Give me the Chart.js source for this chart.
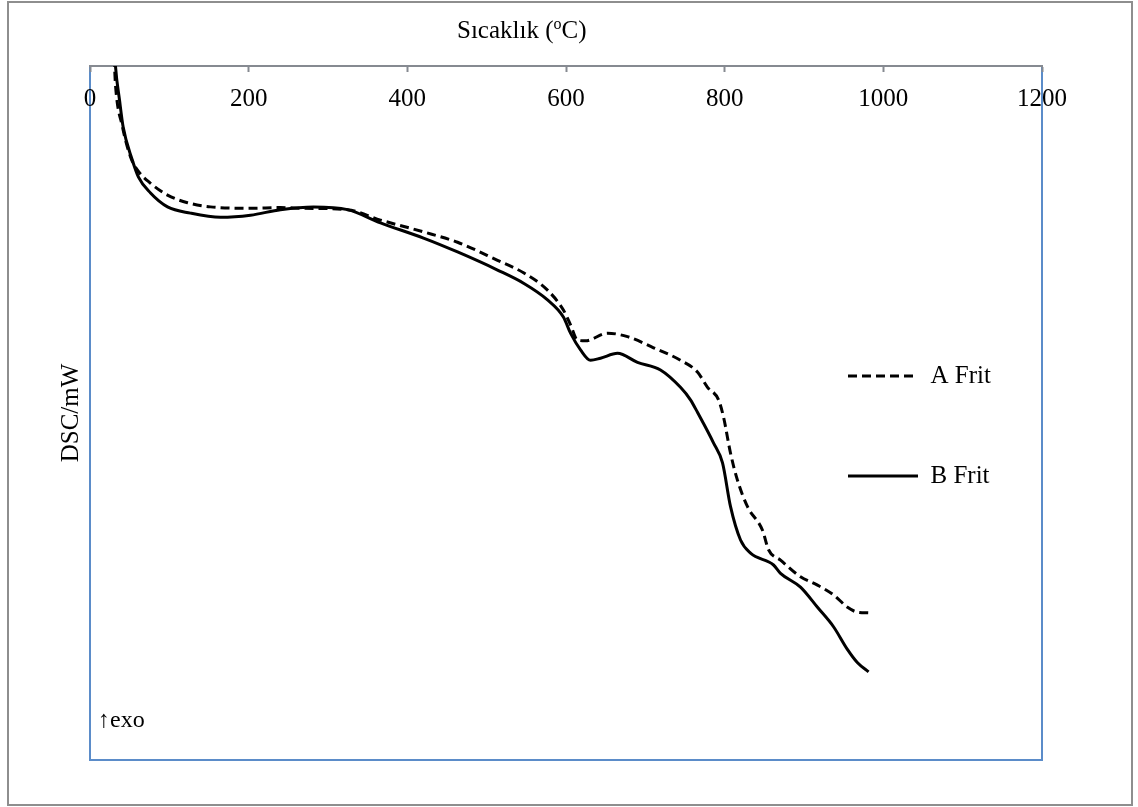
<!DOCTYPE html>
<html>
<head>
<meta charset="utf-8">
<script src="https://cdn.jsdelivr.net/npm/chart.js@4.4.1/dist/chart.umd.min.js"></script>
<style>
  html, body { margin: 0; padding: 0; background: #fff; }
  canvas { display: block; }
</style>
</head>
<body>
<canvas id="c" width="1138" height="807"></canvas>
<script>
// ---- data (temperature in °C, DSC signal in arbitrary units) ----
const seriesNames = ['A Frit', 'B Frit'];
const xTicks = [0, 200, 400, 600, 800, 1000, 1200];

const aTemp = [28.4, 30.9, 32.1, 41.0, 51.1, 59.9, 76.3, 97.7, 122.9, 151.9, 202.3, 240.1, 269.1, 324.6, 366.2, 420.4, 463.3, 513.7, 546.5, 576.7, 596.9, 605.7, 614.5, 624.6, 652.3, 677.5, 710.3, 744.3, 765.7, 778.4, 792.3, 798.6, 807.4, 816.2, 828.8, 847.7, 855.3, 870.4, 895.6, 917.0, 937.2, 954.9, 967.5, 981.4];
const aDsc  = [105.2, 100.0, 97.3, 91.2, 86.9, 85.0, 83.1, 81.4, 80.3, 79.7, 79.5, 79.6, 79.5, 79.3, 77.8, 76.1, 74.6, 72.0, 70.2, 67.7, 64.8, 62.7, 60.5, 60.4, 61.5, 61.0, 59.4, 57.6, 55.9, 53.7, 51.9, 49.4, 44.2, 40.3, 36.5, 33.1, 30.3, 28.8, 26.4, 25.2, 23.8, 22.0, 21.3, 21.2];

const bTemp = [29.6, 32.1, 37.2, 41.8, 53.2, 61.1, 76.3, 97.7, 126.7, 164.5, 202.3, 240.1, 281.7, 324.6, 366.2, 420.4, 463.3, 513.7, 546.5, 576.7, 596.9, 605.7, 618.3, 630.9, 643.5, 664.9, 690.1, 719.1, 744.3, 756.9, 765.7, 785.9, 797.3, 807.4, 820.0, 832.6, 861.6, 870.4, 895.6, 917.0, 937.2, 954.9, 967.5, 981.4];
const bDsc  = [105.2, 100.0, 95.1, 91.2, 86.5, 84.0, 81.7, 79.7, 78.8, 78.2, 78.5, 79.3, 79.7, 79.3, 77.4, 75.2, 73.2, 70.6, 68.7, 66.3, 63.8, 61.5, 59.1, 57.6, 57.9, 58.6, 57.3, 56.2, 53.7, 51.9, 50.1, 45.7, 42.8, 36.5, 31.7, 29.8, 28.1, 26.9, 24.9, 22.0, 19.2, 15.9, 14.0, 12.7];

const SERIF = '"Liberation Serif", "Times New Roman", serif';

function toPoints(xs, ys) { return xs.map((x, i) => ({ x: x, y: ys[i] })); }

const deco = {
  id: 'deco',
  beforeDraw(chart) {
    const ctx = chart.ctx, a = chart.chartArea;
    ctx.save();
    ctx.fillStyle = '#ffffff';
    ctx.fillRect(0, 0, chart.width, chart.height);
    // outer frame
    ctx.strokeStyle = '#8e8e8e';
    ctx.lineWidth = 2;
    ctx.strokeRect(8, 2, 1124, 803);
    // plot frame
    ctx.strokeStyle = '#5b8cc9';
    ctx.lineWidth = 2;
    ctx.strokeRect(a.left, a.top, a.right - a.left, a.bottom - a.top);
    // title with superscript
    ctx.fillStyle = '#000';
    ctx.textBaseline = 'alphabetic';
    ctx.textAlign = 'left';
    let x = 457;
    ctx.font = '25px ' + SERIF;
    const t1 = 'Sıcaklık (';
    ctx.fillText(t1, x, 38);
    x += ctx.measureText(t1).width;
    ctx.font = '16px ' + SERIF;
    ctx.fillText('o', x, 29);
    x += ctx.measureText('o').width;
    ctx.font = '25px ' + SERIF;
    ctx.fillText('C)', x, 38);
    // exo marker
    ctx.font = '24px ' + SERIF;
    ctx.fillText('\u2191exo', 98, 727);
    ctx.restore();
    // place legend inside plot area
    const lg = chart.legend;
    if (lg) {
      lg.left = 773; lg.right = 1040;
      lg.top = 288.5; lg.bottom = 760;
      lg.width = lg.right - lg.left; lg.height = lg.bottom - lg.top;
    }
  }
};

new Chart(document.getElementById('c'), {
  type: 'line',
  data: {
    datasets: [
      {
        label: seriesNames[0],
        data: toPoints(aTemp, aDsc),
        borderColor: '#000',
        backgroundColor: '#000',
        borderWidth: 3,
        borderDash: [9, 5],
        pointRadius: 0,
        cubicInterpolationMode: 'monotone',
        fill: false
      },
      {
        label: seriesNames[1],
        data: toPoints(bTemp, bDsc),
        borderColor: '#000',
        backgroundColor: '#000',
        borderWidth: 3,
        pointRadius: 0,
        cubicInterpolationMode: 'monotone',
        fill: false
      }
    ]
  },
  options: {
    responsive: false,
    animation: false,
    devicePixelRatio: 1,
    layout: { padding: { left: 52, right: 96, top: 66, bottom: 47 } },
    scales: {
      x: {
        type: 'linear',
        min: 0, max: 1200,
        position: { y: 100 },
        afterBuildTicks(scale) { scale.ticks = xTicks.map(v => ({ value: v })); },
        ticks: {
          font: { family: SERIF, size: 25 },
          color: '#000',
          padding: 13,
          maxRotation: 0,
          autoSkip: false,
          callback: (v) => String(v)
        },
        grid: {
          display: true,
          drawOnChartArea: false,
          drawTicks: true,
          tickLength: 5,
          tickColor: '#868a91',
          tickWidth: 2
        },
        border: { display: true, color: '#868a91', width: 2 }
      },
      y: {
        type: 'linear',
        min: 0, max: 100,
        position: 'left',
        ticks: { display: false },
        grid: { display: false, drawTicks: false },
        border: { display: false },
        title: {
          display: true,
          text: 'DSC/mW',
          font: { family: SERIF, size: 25 },
          color: '#000',
          padding: { top: 4, bottom: 4 }
        }
      }
    },
    plugins: {
      legend: {
        position: 'chartArea',
        align: 'start',
        labels: {
          usePointStyle: true,
          pointStyle: 'line',
          pointStyleWidth: 70,
          boxHeight: 25,
          padding: 75,
          textAlign: 'left',
          color: '#000',
          font: { family: SERIF, size: 25 },
          generateLabels(chart) {
            const items = Chart.defaults.plugins.legend.labels.generateLabels(chart);
            return items.map(it => {
              const ds = chart.data.datasets[it.datasetIndex];
              it.lineDash = ds.borderDash || [];
              it.lineWidth = 3;
              it.strokeStyle = '#000';
              it.pointStyle = 'line';
              return it;
            });
          }
        }
      },
      tooltip: { enabled: false }
    }
  },
  plugins: [deco]
});
</script>
</body>
</html>
